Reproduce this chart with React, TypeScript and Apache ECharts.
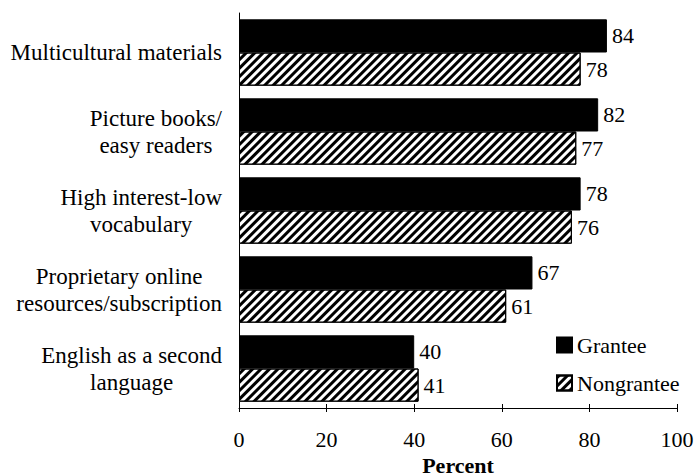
import React, { useEffect, useRef } from "react";
import * as echarts from "echarts";

const categories = [
  "Multicultural materials",
  "Picture books/\neasy readers",
  "High interest-low\nvocabulary",
  "Proprietary online\nresources/subscription",
  "English as a second\nlanguage",
];
const granteeValues = [84, 82, 78, 67, 40];
const nongranteeValues = [78, 77, 76, 61, 41];
const seriesNames = ["Grantee", "Nongrantee"];
const xTicks = { min: 0, max: 100, interval: 20 };

const FONT = "Liberation Serif, Times New Roman, serif";

export default function App() {
  const ref = useRef<HTMLDivElement>(null);
  useEffect(() => {
    document.body.style.margin = "0";
    if (!ref.current) return;
    const chart = echarts.init(ref.current, null, { renderer: "svg" });
    const labelStyle = {
      show: true,
      position: "right" as const,
      distance: 5,
      color: "#000",
      fontSize: 22,
      fontFamily: FONT,
    };
    chart.setOption({
      animation: false,
      backgroundColor: "#fff",
      textStyle: { fontFamily: FONT, color: "#000" },
      grid: {
        left: 239,
        right: 18,
        top: 13,
        bottom: 65,
        containLabel: false,
        outerBoundsMode: "none",
      },
      legend: {
        orient: "vertical",
        left: 556,
        top: 334,
        padding: 0,
        itemWidth: 15,
        itemHeight: 15,
        itemGap: 16,
        icon: "rect",
        textStyle: { fontSize: 22, fontFamily: FONT, color: "#000" },
        data: seriesNames,
      },
      xAxis: [
        {
          type: "value",
          min: xTicks.min,
          max: xTicks.max,
          interval: xTicks.interval,
          position: "bottom",
          name: "Percent",
          nameLocation: "middle",
          nameGap: 46,
          nameTextStyle: {
            fontSize: 22,
            fontWeight: "bold",
            fontFamily: FONT,
            color: "#000",
            lineHeight: 18,
          },
          axisLine: { show: true, lineStyle: { color: "#000", width: 1 } },
          axisTick: { show: true, inside: false, length: 4, lineStyle: { color: "#000" } },
          axisLabel: { fontSize: 22, fontFamily: FONT, color: "#000", margin: 20 },
          splitLine: { show: false },
        },
        {
          type: "value",
          min: xTicks.min,
          max: xTicks.max,
          interval: xTicks.interval,
          position: "bottom",
          axisLine: { show: false },
          axisTick: { show: true, inside: true, length: 4, lineStyle: { color: "#000" } },
          axisLabel: { show: false },
          splitLine: { show: false },
        },
      ],
      yAxis: {
        type: "category",
        inverse: true,
        data: categories,
        axisLine: { show: true, lineStyle: { color: "#000", width: 1 } },
        axisTick: { show: false },
        axisLabel: {
          margin: 17,
          fontFamily: FONT,
          fontSize: 23,
          formatter: (v: string) =>
            v
              .split("\n")
              .map((l) => `{c|${l}}`)
              .join("\n"),
          rich: {
            c: {
              align: "center",
              fontSize: 23,
              fontFamily: FONT,
              color: "#000",
              lineHeight: 27,
            },
          },
        },
      },
      series: [
        {
          name: seriesNames[0],
          type: "bar",
          xAxisIndex: 0,
          data: granteeValues,
          barGap: "0%",
          barCategoryGap: "16%",
          itemStyle: { color: "#000", borderColor: "#000", borderWidth: 1 },
          label: labelStyle,
        },
        {
          name: seriesNames[1],
          type: "bar",
          xAxisIndex: 0,
          data: nongranteeValues,
          barGap: "0%",
          barCategoryGap: "16%",
          itemStyle: {
            color: "#fff",
            borderColor: "#000",
            borderWidth: 1,
            decal: {
              symbol: "rect",
              symbolSize: 1,
              dashArrayX: [1, 0],
              dashArrayY: [2.6, 2.6],
              rotation: -Math.PI / 4,
              color: "#000",
              backgroundColor: "#fff",
            },
          },
          label: labelStyle,
        },
      ],
    });
    return () => chart.dispose();
  }, []);
  return (
    <div
      ref={ref}
      style={{ position: "absolute", left: 0, top: 0, width: 695, height: 473 }}
    />
  );
}
